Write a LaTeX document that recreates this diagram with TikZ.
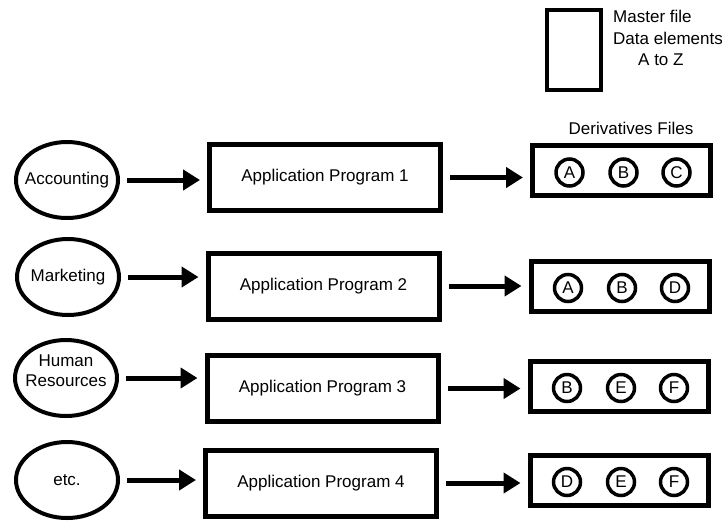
\documentclass[tikz,border=0pt]{standalone}
\usepackage{fontspec}
\setmainfont{Liberation Sans}
\usetikzlibrary{arrows.meta}
\usetikzlibrary{shapes.geometric}
\tikzstyle{dept}=[ellipse,draw,line width=4pt,minimum width=102pt,minimum height=76pt,inner sep=-12pt,align=center]
\tikzstyle{program}=[rectangle,draw,line width=5pt,minimum width=231pt,minimum height=66pt]
\tikzstyle{derivbox}=[rectangle,draw,line width=5pt,minimum width=178pt,minimum height=50pt]
\tikzstyle{element}=[circle,draw,line width=3.5pt,minimum size=27pt,inner sep=0pt]
\tikzstyle{masterbox}=[rectangle,draw,line width=4pt,minimum width=54pt,minimum height=80pt]
\tikzstyle{flow}=[line width=5pt,-{Triangle[length=17pt,width=20pt]},shorten <=7pt,shorten >=7pt]
\newcommand{\derivfile}[5]{% name, centre, three data elements
  \node[derivbox] (#1) at (#2) {};
  \node[element,xshift=-52pt,yshift=-2pt] (#1a) at (#1) {#3};
  \node[element,xshift=2pt,yshift=-2pt] (#1b) at (#1) {#4};
  \node[element,xshift=55pt,yshift=-2pt] (#1c) at (#1) {#5};
}
\begin{document}
\begin{tikzpicture}[x=1pt,y=-1pt,font=\fontsize{17}{21.5}\selectfont]
\useasboundingbox (0,0) rectangle (722,523);
% master file
\node[masterbox] (master) at (574,50) {};
\node[anchor=west,align=left,inner sep=0pt] (mastertext) at (613,38) {Master file\\Data elements\\\hspace*{25pt}A to Z};
\node (derivtitle) at (631,128) {Derivatives Files};
% departments
\node[dept] (acc) at (67,180) {Accounting};
\node[dept] (mkt) at (68,277) {Marketing};
\node[dept,font=\fontsize{17}{20}\selectfont] (hr) at (66,378) {Human\\Resources\\[-6pt]};
\node[dept] (other) at (67,480) {etc.};
% programs
\node[program] (prog1) at (325,177.5) {Application Program 1};
\node[program] (prog2) at (323.5,286) {Application Program 2};
\node[program] (prog3) at (322.5,388.5) {Application Program 3};
\node[program] (prog4) at (321,483) {Application Program 4};
% derivative files
\derivfile{files1}{621.5,170.5}{A}{B}{C}
\derivfile{files2}{620,286}{A}{B}{D}
\derivfile{files3}{619,386}{B}{E}{F}
\derivfile{files4}{619,480}{D}{E}{F}
% arrows
\foreach \i/\d in {1/acc,2/mkt,3/hr,4/other}{
  \draw[flow] (\d.east) -- (\d.east -| prog\i.west);
  \draw[flow] (prog\i.east) -- (prog\i.east -| files\i.west);
}
\end{tikzpicture}
\end{document}
